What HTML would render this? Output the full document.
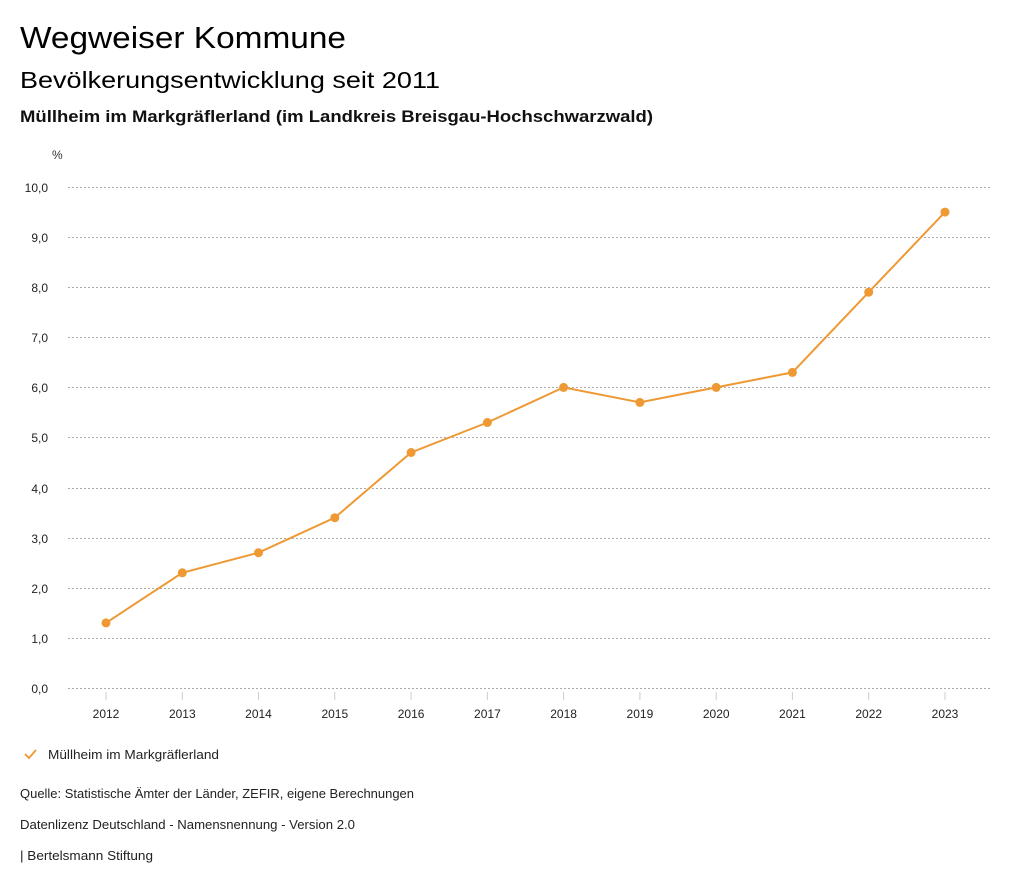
<!DOCTYPE html>
<html><head><meta charset="utf-8"><style>
body{margin:0;background:#fff;width:1024px;height:888px;overflow:hidden;font-family:"Liberation Sans",sans-serif;color:#000}
svg{position:absolute;left:0;top:0}
</style></head><body>
<svg width="1024" height="888" xmlns="http://www.w3.org/2000/svg" font-family="Liberation Sans, sans-serif">
<text x="20" y="48" font-size="31" textLength="326" lengthAdjust="spacingAndGlyphs">Wegweiser Kommune</text>
<text x="20" y="88" font-size="23" textLength="420" lengthAdjust="spacingAndGlyphs">Bevölkerungsentwicklung seit 2011</text>
<text x="20" y="122" font-size="17" font-weight="bold" fill="#111" textLength="633" lengthAdjust="spacingAndGlyphs">Müllheim im Markgräflerland (im Landkreis Breisgau-Hochschwarzwald)</text>
<text x="52" y="159" font-size="12" fill="#333">%</text>
<g stroke="#aaa" stroke-dasharray="2,2" stroke-width="1">
<line x1="68" x2="990" y1="187.5" y2="187.5"/><line x1="68" x2="990" y1="237.5" y2="237.5"/>
<line x1="68" x2="990" y1="287.5" y2="287.5"/><line x1="68" x2="990" y1="337.5" y2="337.5"/>
<line x1="68" x2="990" y1="387.5" y2="387.5"/><line x1="68" x2="990" y1="437.5" y2="437.5"/>
<line x1="68" x2="990" y1="488.5" y2="488.5"/><line x1="68" x2="990" y1="538.5" y2="538.5"/>
<line x1="68" x2="990" y1="588.5" y2="588.5"/><line x1="68" x2="990" y1="638.5" y2="638.5"/>
<line x1="68" x2="990" y1="688.5" y2="688.5"/>
</g>
<g font-size="12" text-anchor="end" fill="#222">
<text x="48" y="192">10,0</text><text x="48" y="242">9,0</text><text x="48" y="292">8,0</text>
<text x="48" y="342">7,0</text><text x="48" y="392">6,0</text><text x="48" y="442">5,0</text>
<text x="48" y="493">4,0</text><text x="48" y="543">3,0</text><text x="48" y="593">2,0</text>
<text x="48" y="643">1,0</text><text x="48" y="693">0,0</text>
</g>
<g stroke="#ccc"><line x1="106" x2="106" y1="692" y2="700"/><line x1="182.3" x2="182.3" y1="692" y2="700"/><line x1="258.5" x2="258.5" y1="692" y2="700"/><line x1="334.8" x2="334.8" y1="692" y2="700"/><line x1="411.1" x2="411.1" y1="692" y2="700"/><line x1="487.4" x2="487.4" y1="692" y2="700"/><line x1="563.6" x2="563.6" y1="692" y2="700"/><line x1="639.9" x2="639.9" y1="692" y2="700"/><line x1="716.2" x2="716.2" y1="692" y2="700"/><line x1="792.4" x2="792.4" y1="692" y2="700"/><line x1="868.7" x2="868.7" y1="692" y2="700"/><line x1="945" x2="945" y1="692" y2="700"/></g>
<g font-size="12" text-anchor="middle" fill="#222">
<text x="106" y="718">2012</text><text x="182.3" y="718">2013</text><text x="258.5" y="718">2014</text><text x="334.8" y="718">2015</text><text x="411.1" y="718">2016</text><text x="487.4" y="718">2017</text><text x="563.6" y="718">2018</text><text x="639.9" y="718">2019</text><text x="716.2" y="718">2020</text><text x="792.4" y="718">2021</text><text x="868.7" y="718">2022</text><text x="945" y="718">2023</text>
</g>
<polyline fill="none" stroke="#ee9933" stroke-width="2" points="106,622.9 182.3,572.8 258.5,552.7 334.8,517.7 411.1,452.5 487.4,422.5 563.6,387.4 639.9,402.4 716.2,387.4 792.4,372.4 868.7,292.2 945,212.1"/>
<g fill="#ee9933">
<circle cx="106" cy="622.9" r="4.5"/><circle cx="182.3" cy="572.8" r="4.5"/><circle cx="258.5" cy="552.7" r="4.5"/><circle cx="334.8" cy="517.7" r="4.5"/><circle cx="411.1" cy="452.5" r="4.5"/><circle cx="487.4" cy="422.5" r="4.5"/><circle cx="563.6" cy="387.4" r="4.5"/><circle cx="639.9" cy="402.4" r="4.5"/><circle cx="716.2" cy="387.4" r="4.5"/><circle cx="792.4" cy="372.4" r="4.5"/><circle cx="868.7" cy="292.2" r="4.5"/><circle cx="945" cy="212.1" r="4.5"/>
</g>
<polyline fill="none" stroke="#ee9933" stroke-width="1.8" points="25,754 29,758 36,750"/>
<text x="48" y="759" font-size="12.5" fill="#222" textLength="171" lengthAdjust="spacingAndGlyphs">Müllheim im Markgräflerland</text>
<text x="20" y="798" font-size="12.5" fill="#222" textLength="394" lengthAdjust="spacingAndGlyphs">Quelle: Statistische Ämter der Länder, ZEFIR, eigene Berechnungen</text>
<text x="20" y="829" font-size="12.5" fill="#222" textLength="335" lengthAdjust="spacingAndGlyphs">Datenlizenz Deutschland - Namensnennung - Version 2.0</text>
<text x="20" y="860" font-size="12.5" fill="#222" textLength="133" lengthAdjust="spacingAndGlyphs">| Bertelsmann Stiftung</text>
</svg>
</body></html>
